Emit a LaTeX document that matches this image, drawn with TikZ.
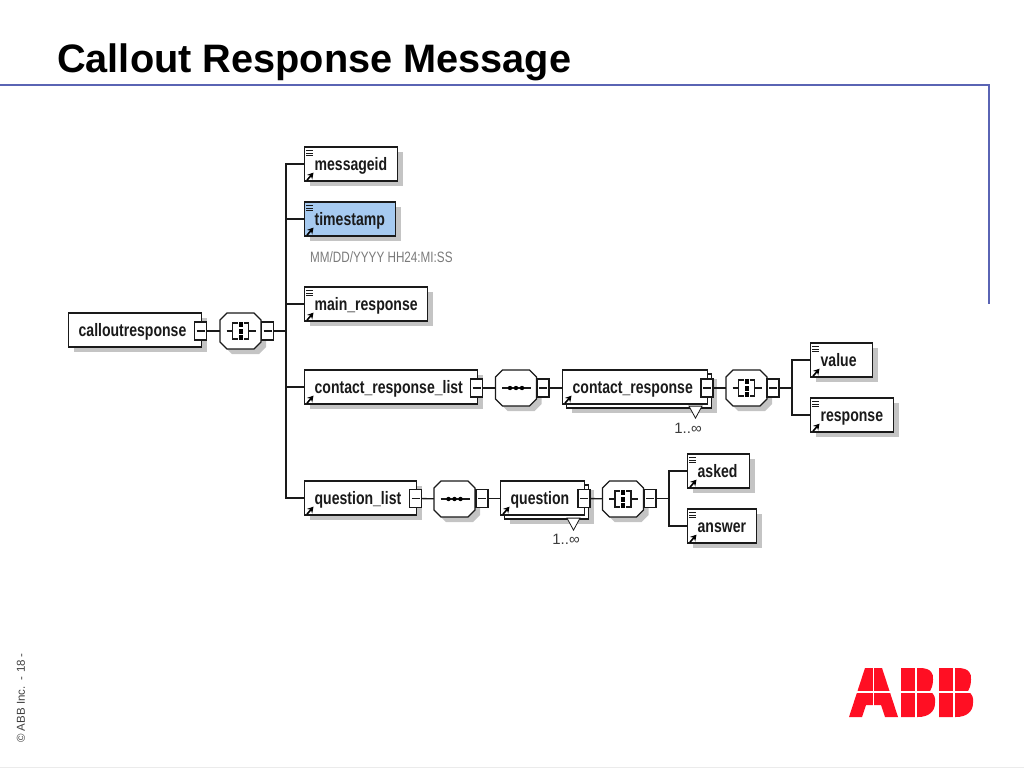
\documentclass[tikz,border=0pt]{standalone}
\usepackage{fontspec}
\setmainfont{Liberation Sans}
\newfontfamily\xsdfont[FakeStretch=0.78]{Liberation Sans}
\usetikzlibrary{shapes.geometric,arrows.meta,shadows}
\definecolor{SlideBlue}{HTML}{5A64B4}
\definecolor{AbbRed}{HTML}{FF0F23}
\definecolor{XsdInk}{HTML}{1A1A1A}
\definecolor{XsdShadow}{HTML}{C4C4C4}
\definecolor{XsdSelect}{HTML}{A6CAF0}
\definecolor{XsdNote}{HTML}{7A7A7A}
\tikzset{
    % Shared shadow
    xsdshadow/.style={
        drop shadow={shadow xshift=5pt,shadow yshift=-5pt,fill=XsdShadow,opacity=1}
    },
    % Base box
    basebox/.style={
        draw=XsdInk,
        fill=white,
        line width=1.3pt,
        rectangle,
        anchor=west,
        minimum height=34pt,
        inner xsep=0pt,
        inner ysep=0pt,
        align=left,
        text=XsdInk,
        text height=13pt,
        text depth=1pt,
        font=\xsdfont\fontsize{18}{20}\selectfont\bfseries,
        execute at begin node={\hspace*{10pt}}
    },
    % Element box
    elembox/.style={
        basebox,
        xsdshadow
    },
    % Selected element
    selectbox/.style={
        elembox,
        fill=XsdSelect
    },
    % Back layer of a repeated element
    backbox/.style={
        draw=XsdInk,
        fill=white,
        line width=1.3pt,
        rectangle,
        anchor=west,
        minimum height=34pt,
        inner sep=0pt,
        xsdshadow
    },
    % Compositor anchor
    octbox/.style={
        rectangle,
        minimum width=41pt,
        minimum height=36pt,
        inner sep=0pt
    },
    % Collapse button
    minusbox/.style={
        draw=XsdInk,
        fill=white,
        line width=1.2pt,
        rectangle,
        minimum width=12pt,
        minimum height=18pt,
        inner sep=0pt,
        path picture={\draw[line width=1.2pt,XsdInk] ([xshift=-4pt]path picture bounding box.center) -- ([xshift=4pt]path picture bounding box.center);}
    },
    % Occurrence triangle
    occbox/.style={
        isosceles triangle,
        shape border rotate=-90,
        isosceles triangle stretches,
        draw=XsdInk,
        fill=white,
        line width=0.8pt,
        minimum width=13pt,
        minimum height=12pt,
        inner sep=0pt
    },
    % Connector
    myconn/.style={
        line width=1.3pt,
        draw=XsdInk
    },
    % Small grey text
    notetext/.style={
        text=XsdNote,
        inner sep=0pt,
        font=\xsdfont\fontsize{15}{17}\selectfont
    },
    % Occurrence text
    occtext/.style={
        text=XsdInk!85,
        inner sep=0pt,
        font=\fontsize{15}{17}\selectfont
    }
}
\begin{document}
\begin{tikzpicture}[x=1pt,y=-1pt]
    \useasboundingbox (0,0) rectangle (1024,768);

    % Title and slide frame
    \node[anchor=base west,inner sep=0pt,text=black,font=\fontsize{39.7}{42}\selectfont\bfseries] (title) at (57,72) {Callout Response Message};
    \draw[SlideBlue,line width=1.6pt] (0,85) -- (989,85) -- (989,304);
    \draw[black!8,line width=0.8pt] (0,767.5) -- (1024,767.5);
    \node[rotate=90,anchor=west,inner sep=0pt,text=black!75,font=\fontsize{11.5}{13}\selectfont] (footer) at (21,743) {© ABB Inc.\ \ - 18 -};

    % Compositors
    \node[octbox] (o1) at (240.5,331) {};
    \node[octbox] (o2) at (516,388) {};
    \node[octbox] (o3) at (746.5,388) {};
    \node[octbox] (o4) at (454.5,499) {};
    \node[octbox] (o5) at (623,499) {};
    \foreach \n in {o1,o2,o3,o4,o5}{
        \begin{scope}[shift={(\n.center)}]
            \path[draw=XsdInk,fill=white,line width=1.3pt,xsdshadow] (-13.5,-18) -- (13.5,-18) -- (20.5,-11) -- (20.5,11) -- (13.5,18) -- (-13.5,18) -- (-20.5,11) -- (-20.5,-11) -- cycle;
        \end{scope}
    }
    % Sequence icons
    \foreach \n in {o2,o4}{
        \begin{scope}[shift={(\n.center)}]
            \draw[line width=1.2pt,XsdInk] (-14,0) -- (15,0);
            \foreach \d in {-6,0,6}{
                \fill[black] (\d,0) circle[radius=2.2];
            }
        \end{scope}
    }
    % All icons
    \foreach \n in {o1,o3,o5}{
        \begin{scope}[shift={(\n.center)}]
            \draw[line width=1.2pt,XsdInk] (-14,0) -- (-8,0);
            \draw[line width=1.2pt,XsdInk] (8,0) -- (15,0);
            \draw[line width=1.2pt,XsdInk] (-3,-8) -- (-8,-8) -- (-8,8) -- (-3,8);
            \draw[line width=1.2pt,XsdInk] (3,-8) -- (8,-8) -- (8,8) -- (3,8);
            \foreach \d in {-6.5,0,6.5}{
                \fill[black] (-2,\d-2.5) rectangle (2,\d+2.5);
            }
        \end{scope}
    }

    % Root
    \node[elembox,text width=133pt,minimum width=133pt] (calloutresponse) at (68,330) {calloutresponse};
    \node[minusbox] (m1) at (200.5,331) {};
    \node[minusbox] (m2) at (267.5,331) {};
    \coordinate (j1) at (286,331);

    % Children of root
    \node[elembox,text width=93pt,minimum width=93pt] (messageid) at (304,164) {messageid};
    \node[selectbox,text width=91pt,minimum width=91pt] (timestamp) at (304,219) {timestamp};
    \node[notetext,anchor=west] (format) at (310,257) {MM/DD/YYYY HH24:MI:SS};
    \node[elembox,text width=123pt,minimum width=123pt] (mainresponse) at (304,304) {main\_response};
    \node[elembox,text width=173pt,minimum width=173pt] (contactlist) at (304,387) {contact\_response\_list};
    \node[elembox,text width=112pt,minimum width=112pt] (questionlist) at (304,498) {question\_list};

    % Contact response branch
    \node[minusbox] (m3) at (476.5,388) {};
    \node[minusbox] (m4) at (543,388) {};
    \node[backbox,minimum width=145pt] (contactback) at (566,391) {};
    \node[occbox] (occ1) at (695.5,410) {};
    \node[basebox,text width=145pt,minimum width=145pt] (contact) at (562,387) {contact\_response};
    \node[occtext,anchor=center] (num1) at (688,428) {1..∞};
    \node[minusbox] (m5) at (707,388) {};
    \node[minusbox] (m6) at (773,388) {};
    \coordinate (j2) at (792,388);
    \node[elembox,text width=62pt,minimum width=62pt] (value) at (810,360) {value};
    \node[elembox,text width=83pt,minimum width=83pt] (response) at (810,415) {response};

    % Question branch
    \node[minusbox] (m7) at (415.5,498.5) {};
    \node[minusbox] (m8) at (482,498.5) {};
    \node[backbox,minimum width=84pt] (questionback) at (504,502) {};
    \node[occbox] (occ2) at (573.5,522) {};
    \node[basebox,text width=84pt,minimum width=84pt] (question) at (500,498) {question};
    \node[occtext,anchor=center] (num2) at (566,539) {1..∞};
    \node[minusbox] (m9) at (584,498.5) {};
    \node[minusbox] (m10) at (650,498.5) {};
    \coordinate (j3) at (669,498.5);
    \node[elembox,text width=62pt,minimum width=62pt] (asked) at (687,471) {asked};
    \node[elembox,text width=69pt,minimum width=69pt] (answer) at (687,526) {answer};

    % Connectors
    \draw[myconn] (m1) -- (o1);
    \draw[myconn] (m2) -- (j1);
    \draw[myconn] (j1) |- (messageid.west);
    \draw[myconn] (j1) |- (timestamp.west);
    \draw[myconn] (j1) |- (mainresponse.west);
    \draw[myconn] (j1) |- (contactlist.west);
    \draw[myconn] (j1) |- (questionlist.west);
    \draw[myconn] (m3) -- (o2);
    \draw[myconn] (m4) -- (contact.west |- m4);
    \draw[myconn] (m5) -- (o3);
    \draw[myconn] (m6) -- (j2);
    \draw[myconn] (j2) |- (value.west);
    \draw[myconn] (j2) |- (response.west);
    \draw[myconn] (m7) -- (o4);
    \draw[myconn] (m8) -- (question.west |- m8);
    \draw[myconn] (m9) -- (o5);
    \draw[myconn] (m10) -- (j3);
    \draw[myconn] (j3) |- (asked.west);
    \draw[myconn] (j3) |- (answer.west);

    % Reference arrows
    \foreach \n in {messageid,timestamp,mainresponse,contactlist,questionlist,contact,question,value,response,asked,answer}{
        \draw[-{Stealth[length=6pt,width=7pt]},line width=1.6pt,black] ([shift={(3pt,1.5pt)}]\n.south west) -- ([shift={(9.5pt,9pt)}]\n.south west);
    }
    % Type bars
    \foreach \n in {messageid,timestamp,mainresponse,value,response,asked,answer}{
        \foreach \d in {4,6.7,9.4}{
            \draw[line width=1pt,XsdInk] ([shift={(2pt,-\d pt)}]\n.north west) -- ([shift={(9pt,-\d pt)}]\n.north west);
        }
    }

    % Logo
    \fill[AbbRed] (865,668) -- (882,668) -- (898,717) -- (885,717) -- (881,705) -- (866,705) -- (862,717) -- (849,717) -- cycle;
    \fill[AbbRed] (901,668) -- (920,668) .. controls (931,668) and (934,674) .. (933,680) .. controls (933,686) and (931,689) .. (930,691) .. controls (934,694) and (936,698) .. (935,703) .. controls (935,712) and (928,717) .. (918,717) -- (901,717) -- cycle;
    \fill[AbbRed] (939,668) -- (958,668) .. controls (969,668) and (972,674) .. (971,680) .. controls (971,686) and (969,689) .. (968,691) .. controls (972,694) and (974,698) .. (973,703) .. controls (973,712) and (966,717) .. (956,717) -- (939,717) -- cycle;
    \draw[white,line width=1.2pt] (845,692) -- (976,692);
    \draw[white,line width=1.2pt] (873.5,666) -- (873.5,719);
    \draw[white,line width=1.2pt] (916,666) -- (916,719);
    \draw[white,line width=1.2pt] (954,666) -- (954,719);
\end{tikzpicture}
\end{document}
